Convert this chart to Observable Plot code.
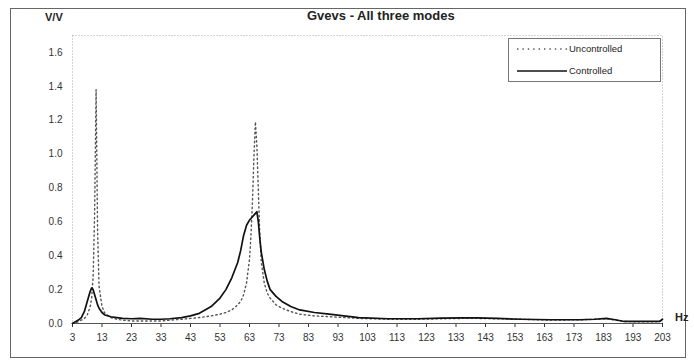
<!DOCTYPE html>
<html><head><meta charset="utf-8">
<script src="https://cdn.jsdelivr.net/npm/d3@7"></script>
<script src="https://cdn.jsdelivr.net/npm/@observablehq/plot@0.6"></script>
<style>
body{margin:0;background:#fff;font-family:"Liberation Sans",Arial,sans-serif;}
#wrap{position:relative;width:694px;height:362px;}
#border{position:absolute;left:10px;top:8px;width:676px;height:350px;border:1px solid #666;box-sizing:border-box;}
.t{position:absolute;font-weight:bold;color:#222;white-space:nowrap;}
#legend{position:absolute;left:508px;top:38px;width:153px;height:44px;border:1px solid #777;box-sizing:border-box;background:#fff;font-size:9.5px;color:#222;}
#legend div{position:absolute;left:6px;display:flex;align-items:center;}
#legend span{margin-left:2px;}
</style></head><body>
<div id="wrap">
<div id="chart"></div>
<div id="border"></div>
<div class="t" style="left:307px;top:8px;font-size:13px;">Gvevs - All three modes</div>
<div class="t" style="left:45px;top:11px;font-size:11px;">V/V</div>
<div class="t" style="left:675px;top:311px;font-size:11px;">Hz</div>
<div id="legend">
 <div style="top:4px"><svg width="52" height="10"><line x1="2" x2="52" y1="5" y2="5" stroke="#555" stroke-width="1.4" stroke-dasharray="1.4,4"/></svg><span>Uncontrolled</span></div>
 <div style="top:26px"><svg width="52" height="10"><line x1="2" x2="52" y1="5" y2="5" stroke="#111" stroke-width="1.6"/></svg><span>Controlled</span></div>
</div>
</div>
<script>
const freq = [3,4,5,6,7,8,9,9.5,10,10.5,11,11.5,12,13,14,16,18,20,23,26,30,33,36,40,43,46,50,53,55,57,59,60,61,62,63,63.5,64,64.5,65,65.5,66,66.5,67,68,69,70,72,74,77,80,85,90,95,100,110,120,128,135,140,147,155,165,175,180,184,187,190,195,200,202,203];
const uncontrolled = [0,0.005,0.01,0.02,0.03,0.05,0.1,0.15,0.28,0.65,1.38,0.55,0.22,0.1,0.06,0.035,0.025,0.02,0.015,0.015,0.015,0.015,0.02,0.025,0.03,0.035,0.045,0.055,0.065,0.08,0.11,0.13,0.17,0.24,0.38,0.52,0.72,0.98,1.19,1.05,0.78,0.52,0.36,0.24,0.18,0.15,0.11,0.09,0.07,0.055,0.045,0.04,0.035,0.03,0.025,0.025,0.028,0.03,0.03,0.028,0.025,0.02,0.022,0.025,0.028,0.02,0.012,0.01,0.01,0.012,0.022];
const controlled = [0,0.01,0.02,0.035,0.07,0.13,0.19,0.21,0.2,0.17,0.14,0.11,0.09,0.065,0.05,0.04,0.035,0.03,0.028,0.03,0.025,0.025,0.028,0.035,0.045,0.06,0.1,0.15,0.2,0.27,0.36,0.43,0.52,0.58,0.61,0.62,0.63,0.64,0.65,0.66,0.6,0.5,0.42,0.32,0.25,0.2,0.16,0.13,0.1,0.08,0.065,0.055,0.045,0.035,0.028,0.028,0.032,0.033,0.033,0.03,0.025,0.022,0.022,0.025,0.03,0.022,0.012,0.012,0.012,0.012,0.025];
const xTicks = d3.range(3, 204, 10);
const yTicks = [0,0.2,0.4,0.6,0.8,1.0,1.2,1.4,1.6];
const yLabels = ["0.0","0.2","0.4","0.6","0.8","1.0","1.2","1.4","1.6"];

const rows = freq.map((f,i)=>({f, u:uncontrolled[i], c:controlled[i]}));

const chart = Plot.plot({
  width:694, height:362,
  marginLeft:72, marginRight:32, marginTop:35, marginBottom:39,
  style:{fontFamily:"Liberation Sans, Arial, sans-serif", fontSize:"10px", color:"#333", background:"transparent"},
  x:{domain:[3,203], ticks:xTicks, tickSize:4, tickPadding:6, label:null, line:false},
  y:{domain:[0,1.7], ticks:yTicks, tickFormat:(d)=>yLabels[yTicks.indexOf(d)], tickSize:0, tickPadding:10, label:null},
  marks:[
    Plot.frame({stroke:"#aaa", strokeDasharray:"1,2"}),
    Plot.ruleY([0], {stroke:"#555", strokeWidth:1.2}),
    Plot.line(rows, {x:"f", y:"u", stroke:"#555", strokeWidth:1.4, strokeDasharray:"1.4,3"}),
    Plot.line(rows, {x:"f", y:"c", stroke:"#111", strokeWidth:1.7})
  ]
});
document.getElementById("chart").appendChild(chart);
</script>
</body></html>
